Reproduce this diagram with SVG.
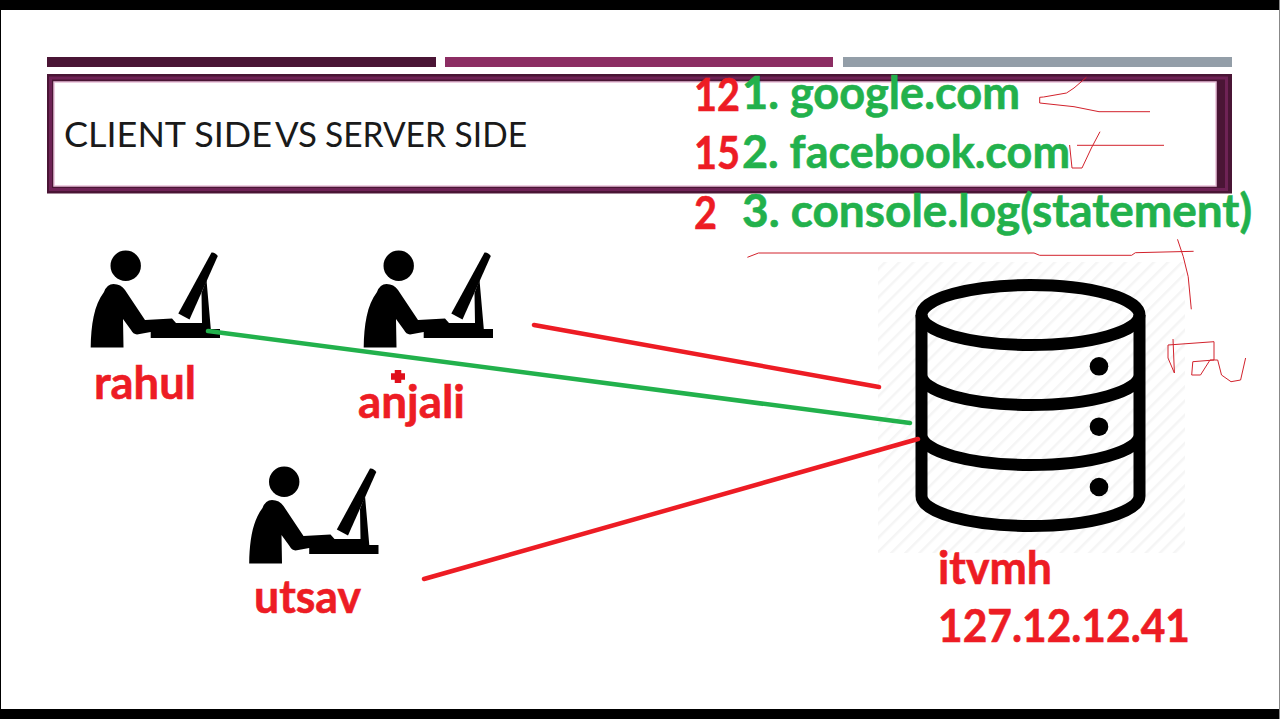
<svg xmlns="http://www.w3.org/2000/svg" width="1280" height="719" viewBox="0 0 1280 719">
<style>
.lbl{font-family:"Lato","Open Sans","Liberation Sans",sans-serif;font-weight:700;font-size:45px;stroke-width:.6}
.red{fill:#ed1c24;stroke:#ed1c24}
.grn{fill:#22b14c;stroke:#22b14c}
.scr{fill:none;stroke:#d2222c;stroke-width:1}
.con{fill:none;stroke-width:4.500;stroke-linecap:round}
.db{fill:none;stroke:#000;stroke-width:12}
</style>
<defs>
<pattern id="hatch" width="10" height="10" patternUnits="userSpaceOnUse" patternTransform="rotate(-45)">
<rect width="10" height="10" fill="#fff"/><rect width="10" height="2.500" fill="#f5f5f5"/>
</pattern>
<symbol id="person" overflow="visible" width="1" height="1">
<circle cx="125.700" cy="265.700" r="15.200"/>
<path d="M90.700 347.500C91 325 94 305 104 292Q107 284 113.500 284Q121 284 125 290L145 320L172 318.500L176 323L202 323L201.500 293L206.500 280L210.800 329L220 329L220 338L150.700 338L150.700 332L137 334.500Q133 334 131 330L123 319L123.500 347.500Z"/>
<path d="M211.500 252.500Q215 252 217.800 256L189.500 319.500L178.300 313.500Z"/>
</symbol>
</defs>
<rect width="1280" height="719" fill="#fff"/>
<rect width="1280" height="10" fill="#000"/>
<rect y="709" width="1280" height="10" fill="#000"/>
<rect x="0" y="0" width="1" height="719" fill="#000"/>
<rect x="1279" y="0" width="1" height="719" fill="#888"/>

<g id="title">
<rect x="47" y="57" width="389" height="10" fill="#4a1535"/>
<rect x="445" y="57" width="388" height="10" fill="#8c2d63"/>
<rect x="843" y="57" width="389" height="10" fill="#939ea8"/>
<rect x="47" y="74" width="1185" height="119.500" fill="#4a1535"/>
<rect x="50.500" y="78" width="1176" height="111.500" fill="none" stroke="#6e2255" stroke-width="3"/>
<rect x="54" y="82" width="1162" height="104" fill="#fff" stroke="#e8bfd8" stroke-width="1.500"/>
<text y="147" font-family="Lato,'Open Sans','Liberation Sans',sans-serif" font-size="35" fill="#1a1a1a"><tspan x="64" textLength="208" lengthAdjust="spacingAndGlyphs">CLIENT SIDE</tspan> <tspan x="275" textLength="42" lengthAdjust="spacingAndGlyphs">VS</tspan> <tspan x="325" textLength="202" lengthAdjust="spacingAndGlyphs">SERVER SIDE</tspan></text>
</g>

<g id="list">
<text class="lbl red" x="694" y="111" textLength="46" lengthAdjust="spacingAndGlyphs">12</text>
<text class="lbl grn" x="742" y="109" textLength="278" lengthAdjust="spacingAndGlyphs">1. google.com</text>
<text class="lbl red" x="694" y="169" textLength="46" lengthAdjust="spacingAndGlyphs">15</text>
<text class="lbl grn" x="742" y="168" textLength="328" lengthAdjust="spacingAndGlyphs">2. facebook.com</text>
<text class="lbl red" x="694" y="229" textLength="23" lengthAdjust="spacingAndGlyphs">2</text>
<text class="lbl grn" x="742" y="227" textLength="510" lengthAdjust="spacingAndGlyphs">3. console.log(statement)</text>
</g>

<g id="server">
<rect x="878" y="262" width="307" height="291" fill="url(#hatch)"/>
<ellipse class="db" cx="1030.500" cy="315" rx="109" ry="30"/>
<path class="db" d="M921.500 315V496A109 30 0 0 0 1139.500 496V315M921.500 375A109 30 0 0 0 1139.500 375M921.500 435A109 30 0 0 0 1139.500 435"/>
<circle cx="1099" cy="366.300" r="9.300"/>
<circle cx="1099" cy="426.700" r="9.300"/>
<circle cx="1099" cy="487" r="9.300"/>
<text class="lbl red" x="938" y="584" textLength="114" lengthAdjust="spacingAndGlyphs">itvmh</text>
<text class="lbl red" x="938" y="642" textLength="252" lengthAdjust="spacingAndGlyphs">127.12.12.41</text>
</g>

<g id="rahul">
<use href="#person"/>
<text class="lbl red" x="94" y="399" textLength="102" lengthAdjust="spacingAndGlyphs">rahul</text>
</g>
<g id="anjali">
<use href="#person" x="273"/>
<text class="lbl red" x="358" y="418" textLength="107" lengthAdjust="spacingAndGlyphs">anjali</text>
</g>
<g id="utsav">
<use href="#person" x="158.500" y="216"/>
<text class="lbl red" x="254" y="613" textLength="107" lengthAdjust="spacingAndGlyphs">utsav</text>
</g>

<g id="connectors">
<path class="con" stroke="#ed1c24" d="M534 325L879 387"/>
<path class="con" stroke="#22b14c" d="M208 331L910 423"/>
<path class="con" stroke="#ed1c24" d="M424 579L918 439"/>
</g>

<g id="marks">
<path d="M398 370V383M391 376.500H405" stroke="#e0101c" stroke-width="6.500" fill="none"/>
<path class="scr" d="M1086.400 77.300L1074 88L1066.500 93L1043.600 97L1039.700 97.300V103L1074 106.700L1099 111.700H1150"/>
<path class="scr" d="M1100 131.700L1091.400 148L1082 168H1072L1069.600 145M1077 145.300H1164"/>
<path class="scr" d="M747.400 257.300L758.500 253H1034L1039.700 255.300H1131.600L1135.400 252.700L1193.600 251.300"/>
<path class="scr" d="M1177.500 239.300L1183.300 256.700L1188.200 276.700L1191.300 309.300"/>
<path class="scr" d="M1173 339L1174.400 373L1168 358V345L1214 341.700V360L1192.800 361.700L1191.700 375H1200.500L1210 360H1217.700L1221.500 375L1231 381.700L1240.600 380L1245.600 358"/>
</g>
</svg>
